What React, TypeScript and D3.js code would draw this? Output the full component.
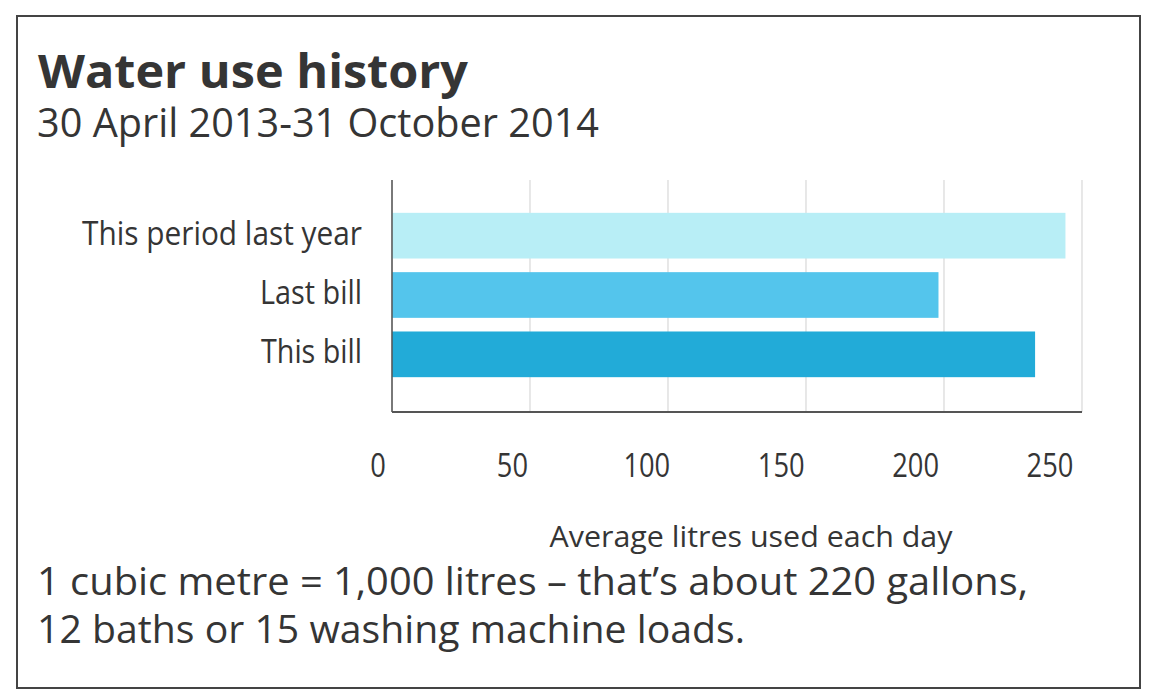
import * as d3 from "d3";

const categories: string[] = ["This period last year", "Last bill", "This bill"];
const values: number[] = [244, 198, 233];
const barColors: string[] = ["#b8eef6", "#54c5ec", "#22abd8"];
const tickValues: number[] = [0, 50, 100, 150, 200, 250];

const title = "Water use history";
const subtitle = "30 April 2013-31 October 2014";
const axisTitle = "Average litres used each day";
const note1 = "1 cubic metre = 1,000 litres \u2013 that\u2019s about 220 gallons,";
const note2 = "12 baths or 15 washing machine loads.";

const width = 1150;
const height = 696;
const font = "'Open Sans', 'DejaVu Sans', sans-serif";
const ink = "#353535";

const App = () => {
  const x = d3.scaleLinear().domain([0, 250]).range([392, 1082]);
  // the printed tick labels drift a little left of their gridlines
  const xLabel = x.copy().range([378, 1050]);
  const y = d3.scaleBand<string>()
    .domain(categories)
    .range([206, 384])
    .paddingInner(0.23)
    .paddingOuter(0.115);
  const labelWidths = [280, 102, 101];

  return (
    <svg width={width} height={height} style={{ position: "absolute", left: 0, top: 0, background: "#fff" }}>
      <rect x={17} y={16} width={1123} height={672} fill="#fff" stroke="#444" strokeWidth={2} />

      <text x={38} y={88} fontFamily={font} fontWeight={700} fontSize={46} fill={ink}
        textLength={430} lengthAdjust="spacingAndGlyphs">{title}</text>
      <text x={37} y={137} fontFamily={font} fontSize={41} fill={ink}
        textLength={562} lengthAdjust="spacingAndGlyphs">{subtitle}</text>

      {tickValues.map((t) => (
        <line key={"g" + t} x1={x(t)} x2={x(t)} y1={180} y2={412} stroke="#d8d8d8" strokeWidth={1.2} />
      ))}

      {categories.map((c, i) => (
        <rect key={c} x={x(0)} y={y(c)} width={x(values[i]) - x(0)} height={y.bandwidth()} fill={barColors[i]} />
      ))}

      <line x1={392} x2={392} y1={180} y2={412} stroke="#555" strokeWidth={1.5} />
      <line x1={392} x2={1082} y1={412} y2={412} stroke="#555" strokeWidth={2} />

      {categories.map((c, i) => (
        <text key={"l" + c} x={362} y={(y(c) as number) + y.bandwidth() / 2 + 9} textAnchor="end"
          fontFamily={font} fontSize={32} fill={ink}
          textLength={labelWidths[i]} lengthAdjust="spacingAndGlyphs">{c}</text>
      ))}

      {tickValues.map((t) => (
        <text key={"t" + t} x={xLabel(t)} y={477} textAnchor="middle" fontFamily={font} fontSize={32} fill={ink}
          textLength={String(t).length * 15.6} lengthAdjust="spacingAndGlyphs">{t}</text>
      ))}

      <text x={751} y={547} textAnchor="middle" fontFamily={font} fontSize={30} fill={ink}
        textLength={403} lengthAdjust="spacingAndGlyphs">{axisTitle}</text>

      <text x={37} y={595} fontFamily={font} fontSize={38} fill={ink}
        textLength={991} lengthAdjust="spacingAndGlyphs">{note1}</text>
      <text x={37} y={643} fontFamily={font} fontSize={38} fill={ink}
        textLength={708} lengthAdjust="spacingAndGlyphs">{note2}</text>
    </svg>
  );
};

export default App;
